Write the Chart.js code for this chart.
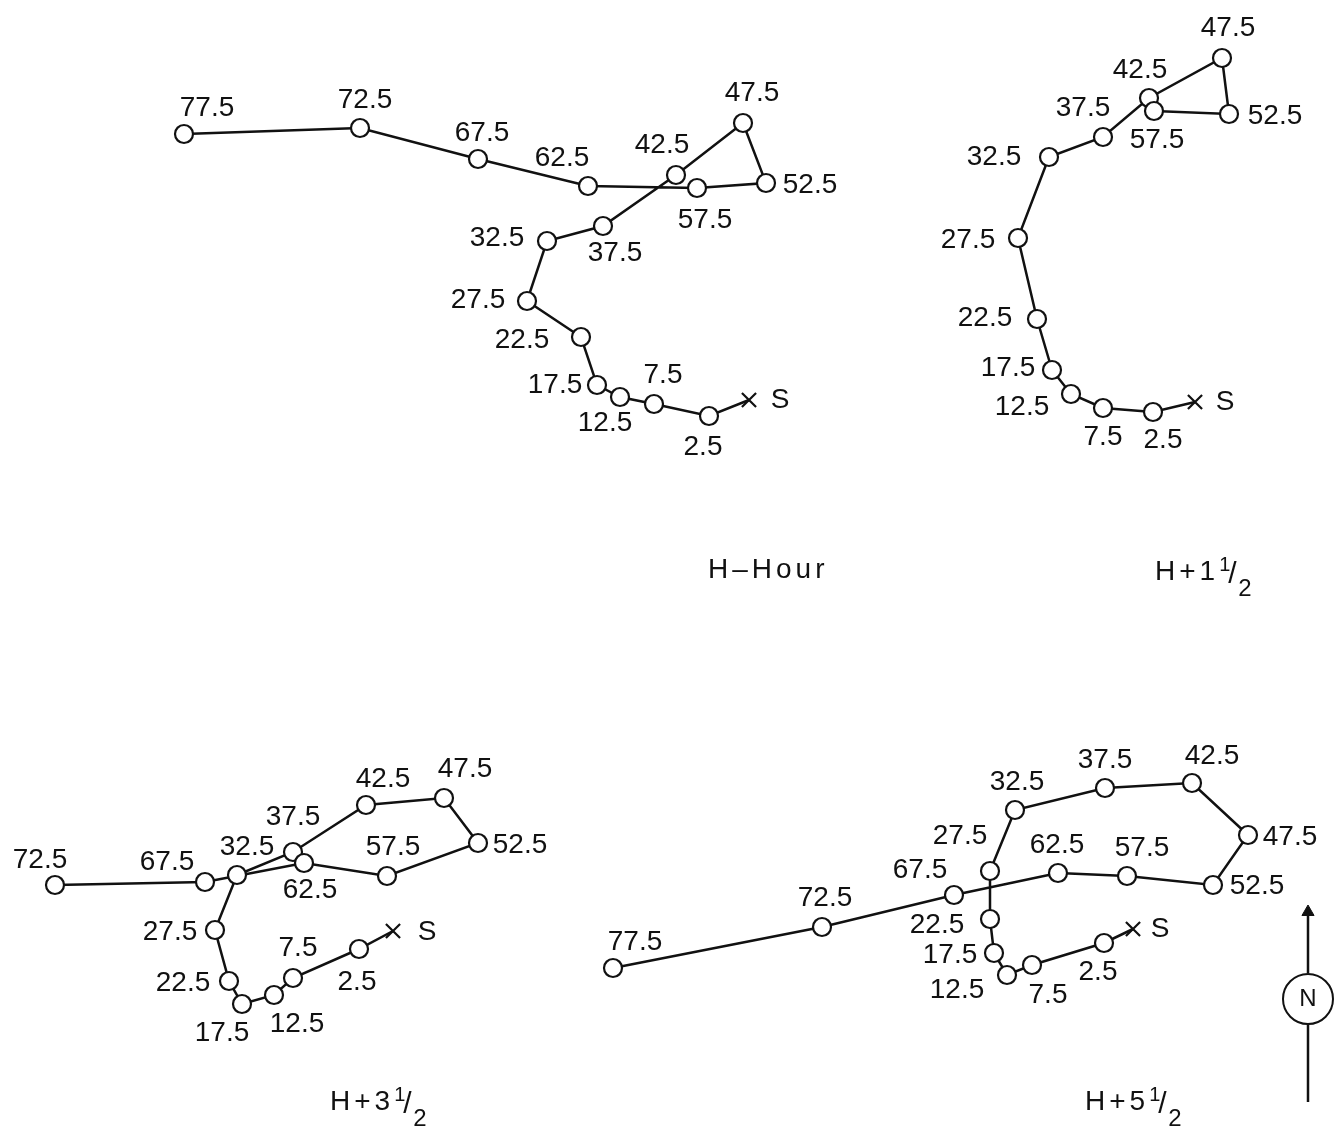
<!DOCTYPE html>
<html lang="en">
<head>
<meta charset="UTF-8">
<title>Trajectories</title>
<script src="https://cdn.jsdelivr.net/npm/chart.js"></script>
<style>
  body { margin: 0; background: #fff; }
  canvas { display: block; }
</style>
</head>
<body>
<canvas id="chart" width="1334" height="1127"></canvas>
<script>
// level labels (thousands of ft), S = surface
const levels = ['S', '2.5', '7.5', '12.5', '17.5', '22.5', '27.5', '32.5', '37.5',
  '42.5', '47.5', '52.5', '57.5', '62.5', '67.5', '72.5', '77.5'];

// H-Hour
const hourX = [749, 709, 654, 620, 597, 581, 527, 547, 603, 676, 743, 766, 697, 588, 478, 360, 184];
const hourY = [400, 416, 404, 397, 385, 337, 301, 241, 226, 175, 123, 183, 188, 186, 159, 128, 134];

// H+1 1/2
const h15X = [1195, 1153, 1103, 1071, 1052, 1037, 1018, 1049, 1103, 1149, 1222, 1229, 1154];
const h15Y = [402, 412, 408, 394, 370, 319, 238, 157, 137, 98, 58, 114, 111];

// H+3 1/2
const h35X = [393, 359, 293, 274, 242, 229, 215, 237, 293, 366, 444, 478, 387, 304, 205, 55];
const h35Y = [931, 949, 978, 995, 1004, 981, 930, 875, 852, 805, 798, 843, 876, 863, 882, 885];

// H+5 1/2
const h55X = [1133, 1104, 1032, 1007, 994, 990, 990, 1015, 1105, 1192, 1248, 1213, 1127, 1058, 954, 822, 613];
const h55Y = [929, 943, 965, 975, 953, 919, 871, 810, 788, 783, 835, 885, 876, 873, 895, 927, 968];

// where each level label sits relative to its point
const hourOff = [[31,0],[-6,31],[9,-29],[-15,26],[-42,0],[-59,3],[-49,-1],[-50,-3],[12,27],
  [-14,-30],[9,-30],[44,2],[8,32],[-26,-28],[4,-26],[5,-28],[23,-26]];
const h15Off = [[30,0],[10,28],[0,29],[-49,13],[-44,-2],[-52,-1],[-50,2],[-55,0],[-20,-29],
  [-9,-28],[6,-30],[46,2],[3,29]];
const h35Off = [[34,1],[-2,33],[5,-30],[23,29],[-20,29],[-46,2],[-45,2],[10,-28],[0,-35],
  [17,-26],[21,-29],[42,2],[6,-29],[6,27],[-38,-20],[-15,-25]];
const h55Off = [[27,0],[-6,29],[16,30],[-50,15],[-44,2],[-53,6],[-30,-35],[2,-28],[0,-28],
  [20,-27],[42,2],[44,1],[15,-28],[-1,-28],[-34,-25],[3,-29],[22,-26]];

const captions = [
  { main: 'H\u2013Hour', x: 708, y: 568 },
  { main: 'H+1', frac: true, x: 1155, y: 570 },
  { main: 'H+3', frac: true, x: 330, y: 1100 },
  { main: 'H+5', frac: true, x: 1085, y: 1100 }
];

const INK = '#111';
const LABEL_FONT = '28px "Liberation Sans", Arial, sans-serif';

function track(xs, ys, offs) {
  return {
    data: xs.map((x, i) => ({ x: x, y: ys[i], label: levels[i], off: offs[i] })),
    showLine: true,
    borderColor: INK,
    borderWidth: 2.5,
    backgroundColor: '#fff',
    pointBorderColor: INK,
    pointBackgroundColor: '#fff',
    pointBorderWidth: 2.2,
    pointRadius: ctx => ctx.dataIndex === 0 ? 10 : 9,
    pointStyle: ctx => ctx.dataIndex === 0 ? 'crossRot' : 'circle',
    clip: false
  };
}

function plain(points, opts) {
  return Object.assign({
    data: points,
    showLine: true,
    borderColor: INK,
    borderWidth: 2.5,
    pointRadius: 0,
    clip: false
  }, opts);
}

const north = 1308;

const labelPlugin = {
  id: 'levelLabels',
  afterDatasetsDraw(chart) {
    const c = chart.ctx;
    const xs = chart.scales.x, ys = chart.scales.y;
    c.save();
    c.fillStyle = INK;
    c.font = LABEL_FONT;
    c.textAlign = 'center';
    c.textBaseline = 'middle';
    chart.data.datasets.forEach(ds => {
      ds.data.forEach(p => {
        if (!p.label) return;
        c.fillText(p.label, xs.getPixelForValue(p.x) + p.off[0], ys.getPixelForValue(p.y) + p.off[1]);
      });
    });

    // north marker letter
    c.font = '24px "Liberation Sans Narrow", "Liberation Sans", sans-serif';
    c.fillText('N', xs.getPixelForValue(north), ys.getPixelForValue(999));

    // panel captions
    c.textAlign = 'left';
    c.textBaseline = 'alphabetic';
    c.letterSpacing = '4px';
    captions.forEach(cap => {
      let px = xs.getPixelForValue(cap.x), py = ys.getPixelForValue(cap.y) + 10;
      c.font = '28px "Liberation Sans", Arial, sans-serif';
      c.fillText(cap.main, px, py);
      if (cap.frac) {
        px += c.measureText(cap.main).width;
        c.font = '20px "Liberation Sans", Arial, sans-serif';
        c.fillText('1', px, py - 9);
        c.font = '30px "Liberation Sans", Arial, sans-serif';
        c.fillText('/', px + 9, py + 3);
        c.font = '24px "Liberation Sans", Arial, sans-serif';
        c.fillText('2', px + 19, py + 16);
      }
    });
    c.restore();
  }
};

new Chart(document.getElementById('chart'), {
  type: 'scatter',
  data: {
    datasets: [
      track(hourX, hourY, hourOff),
      track(h15X, h15Y, h15Off),
      track(h35X, h35Y, h35Off),
      track(h55X, h55Y, h55Off),
      plain([{ x: north, y: 1102 }, { x: north, y: 1023 }]),
      plain([{ x: north, y: 973 }, { x: north, y: 914 }]),
      plain([{ x: north, y: 999 }], {
        showLine: false, pointRadius: 25, pointBorderWidth: 2,
        pointBorderColor: INK, pointBackgroundColor: '#fff'
      }),
      plain([{ x: north, y: 912 }], {
        showLine: false, pointRadius: 7, pointStyle: 'triangle',
        pointBorderColor: INK, pointBackgroundColor: INK, pointBorderWidth: 1
      })
    ]
  },
  options: {
    responsive: false,
    animation: false,
    layout: { padding: 0, autoPadding: false },
    plugins: { legend: { display: false }, tooltip: { enabled: false } },
    scales: {
      x: { type: 'linear', min: 0, max: 1334, display: false },
      y: { type: 'linear', min: 0, max: 1127, reverse: true, display: false }
    }
  },
  plugins: [labelPlugin]
});
</script>
</body>
</html>
